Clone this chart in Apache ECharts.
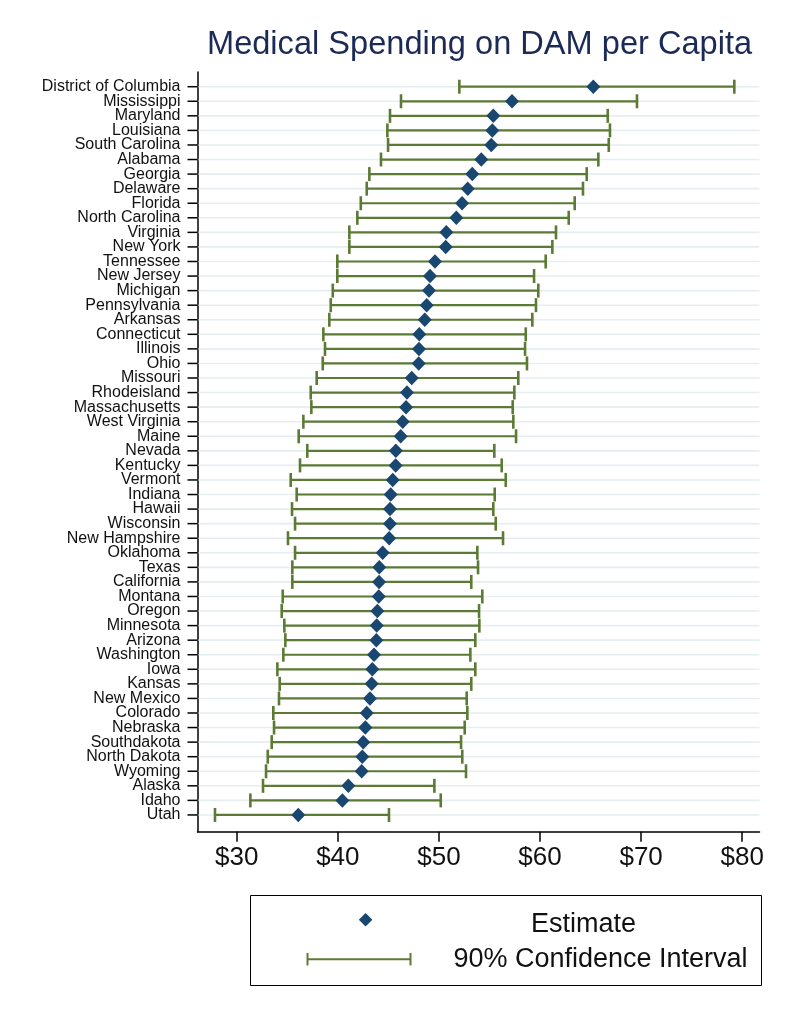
<!DOCTYPE html>
<html>
<head>
<meta charset="utf-8">
<script src="https://cdn.jsdelivr.net/npm/echarts@6/dist/echarts.min.js"></script>
<style>
html,body{margin:0;padding:0;background:#fff;}
#chart{width:788px;height:1020px;}
</style>
</head>
<body>
<div id="chart"></div>
<script>
const states = ['District of Columbia','Mississippi','Maryland','Louisiana','South Carolina','Alabama','Georgia','Delaware','Florida','North Carolina','Virginia','New York','Tennessee','New Jersey','Michigan','Pennsylvania','Arkansas','Connecticut','Illinois','Ohio','Missouri','Rhodeisland','Massachusetts','West Virginia','Maine','Nevada','Kentucky','Vermont','Indiana','Hawaii','Wisconsin','New Hampshire','Oklahoma','Texas','California','Montana','Oregon','Minnesota','Arizona','Washington','Iowa','Kansas','New Mexico','Colorado','Nebraska','Southdakota','North Dakota','Wyoming','Alaska','Idaho','Utah'];

const estimate = [65.27,57.23,55.38,55.28,55.18,54.19,53.30,52.85,52.29,51.72,50.73,50.67,
  49.61,49.12,49.02,48.79,48.60,48.06,48.03,48.00,47.31,46.84,46.75,46.42,
  46.22,45.74,45.72,45.43,45.23,45.16,45.16,45.08,44.44,44.10,44.08,44.05,
  43.91,43.85,43.81,43.58,43.41,43.35,43.18,42.86,42.72,42.52,42.42,42.36,41.04,40.45,36.09];

const ciLow = [52.02,46.25,45.16,44.90,44.97,44.27,43.12,42.86,42.27,41.93,41.14,41.14,
  39.95,39.95,39.50,39.30,39.16,38.57,38.73,38.51,37.91,37.32,37.38,36.59,
  36.13,36.98,36.26,35.34,35.93,35.47,35.77,35.07,35.77,35.50,35.50,34.55,
  34.45,34.71,34.81,34.61,34.02,34.25,34.18,33.62,33.69,33.46,33.07,32.90,32.60,31.35,27.85];

const ciHigh = [79.22,69.59,66.70,66.92,66.80,65.77,64.62,64.25,63.43,62.84,61.58,61.22,
  60.56,59.41,59.83,59.60,59.24,58.59,58.52,58.71,57.85,57.46,57.30,57.36,
  57.63,55.48,56.21,56.61,55.52,55.38,55.62,56.34,53.80,53.87,53.20,54.29,
  53.97,54.00,53.60,53.11,53.60,53.20,52.75,52.81,52.55,52.19,52.31,52.68,49.55,50.18,45.06];

const xTicks = [30,40,50,60,70,80];
const xTickLabels = ['$30','$40','$50','$60','$70','$80'];

const FONT = "'Liberation Sans', Arial, Helvetica, sans-serif";
const GREEN = '#5b7a33';
const NAVY = '#1a476f';
const GRID = '#e6eef1';

const rowIdx = states.map((s, i) => i);
// blank guard labels at both ends of the axis keep the first/last state labels visible
const yLabelValues = [-1].concat(rowIdx, [states.length]);
const ciData = states.map((s, i) => [ciLow[i], ciHigh[i], i]);
const estData = states.map((s, i) => [estimate[i], i]);

const chart = echarts.init(document.getElementById('chart'), null, {renderer: 'canvas'});

const option = {
  backgroundColor: '#ffffff',
  animation: false,
  title: {
    text: 'Medical Spending on DAM per Capita',
    left: 207,
    top: 29,
    padding: 0,
    textStyle: {fontFamily: FONT, fontSize: 32.6, fontWeight: 'normal', color: '#1c2b55'}
  },
  grid: {left: 197.5, right: 28.5, top: 72, bottom: 188.3, containLabel: false, outerBoundsMode: 'none'},
  xAxis: {
    type: 'value',
    min: 26.12,
    max: 81.71,
    axisLine: {show: true, onZero: false, lineStyle: {color: '#000', width: 1.5}},
    axisTick: {show: true, customValues: xTicks, length: 10, lineStyle: {color: '#000', width: 1.5}},
    axisLabel: {
      show: true, customValues: xTicks, margin: 13,
      formatter: (v) => xTickLabels[xTicks.indexOf(Math.round(v))] || '',
      fontFamily: FONT, fontSize: 26, color: '#111'
    },
    splitLine: {show: false}
  },
  yAxis: {
    type: 'value',
    inverse: true,
    min: -1.01,
    max: 51.15,
    axisLine: {show: true, onZero: false, lineStyle: {color: '#000', width: 1.5}},
    axisTick: {show: false},
    axisLabel: {
      show: true, customValues: yLabelValues, margin: 17,
      formatter: (v) => states[Math.round(v)] || '',
      fontFamily: FONT, fontSize: 16, color: '#111', lineHeight: 9
    },
    splitLine: {show: false}
  },
  series: [
    {
      name: 'gridlines and ticks',
      type: 'custom',
      silent: true,
      clip: false,
      z: 1,
      data: rowIdx,
      encode: {y: 0},
      renderItem: function (params, api) {
        const cs = params.coordSys;
        const y = api.coord([30, api.value(0)])[1];
        return {
          type: 'group',
          children: [
            {type: 'line', shape: {x1: cs.x + 1, y1: y, x2: cs.x + cs.width, y2: y}, style: {stroke: GRID, lineWidth: 1.6}},
            {type: 'line', shape: {x1: cs.x - 10, y1: y, x2: cs.x, y2: y}, style: {stroke: '#000', lineWidth: 1.5}}
          ]
        };
      }
    },
    {
      name: '90% Confidence Interval',
      type: 'custom',
      z: 3,
      data: ciData,
      encode: {x: [0, 1], y: 2},
      renderItem: function (params, api) {
        const i = api.value(2);
        const p1 = api.coord([api.value(0), i]);
        const p2 = api.coord([api.value(1), i]);
        const h = 7;
        const st = {stroke: GREEN, lineWidth: 2.2};
        const cst = {stroke: GREEN, lineWidth: 2.6};
        return {
          type: 'group',
          children: [
            {type: 'line', shape: {x1: p1[0], y1: p1[1], x2: p2[0], y2: p2[1]}, style: st},
            {type: 'line', shape: {x1: p1[0], y1: p1[1] - h, x2: p1[0], y2: p1[1] + h}, style: cst},
            {type: 'line', shape: {x1: p2[0], y1: p2[1] - h, x2: p2[0], y2: p2[1] + h}, style: cst}
          ]
        };
      }
    },
    {
      name: 'Estimate',
      type: 'scatter',
      z: 5,
      symbol: 'diamond',
      symbolSize: [14, 14.5],
      itemStyle: {color: NAVY, opacity: 1},
      data: estData
    }
  ],
  graphic: [
    {type: 'rect', shape: {x: 250.5, y: 895.5, width: 511, height: 90}, style: {fill: '#fff', stroke: '#000', lineWidth: 1}, z: 10},
    {type: 'polygon', shape: {points: [[365.6, 912.9], [372.4, 919.7], [365.6, 926.5], [358.8, 919.7]]}, style: {fill: NAVY}, z: 11},
    {type: 'line', shape: {x1: 307.5, y1: 959.2, x2: 410.5, y2: 959.2}, style: {stroke: GREEN, lineWidth: 2}, z: 11},
    {type: 'line', shape: {x1: 307.5, y1: 953, x2: 307.5, y2: 965.4}, style: {stroke: GREEN, lineWidth: 2}, z: 11},
    {type: 'line', shape: {x1: 410.5, y1: 953, x2: 410.5, y2: 965.4}, style: {stroke: GREEN, lineWidth: 2}, z: 11},
    {type: 'text', x: 531, y: 924.5, style: {text: 'Estimate', font: "27px " + FONT, fill: '#111', textAlign: 'left', textVerticalAlign: 'middle'}, z: 11},
    {type: 'text', x: 453.4, y: 959.5, style: {text: '90% Confidence Interval', font: "27px " + FONT, fill: '#111', textAlign: 'left', textVerticalAlign: 'middle'}, z: 11}
  ]
};

chart.setOption(option);
</script>
</body>
</html>
